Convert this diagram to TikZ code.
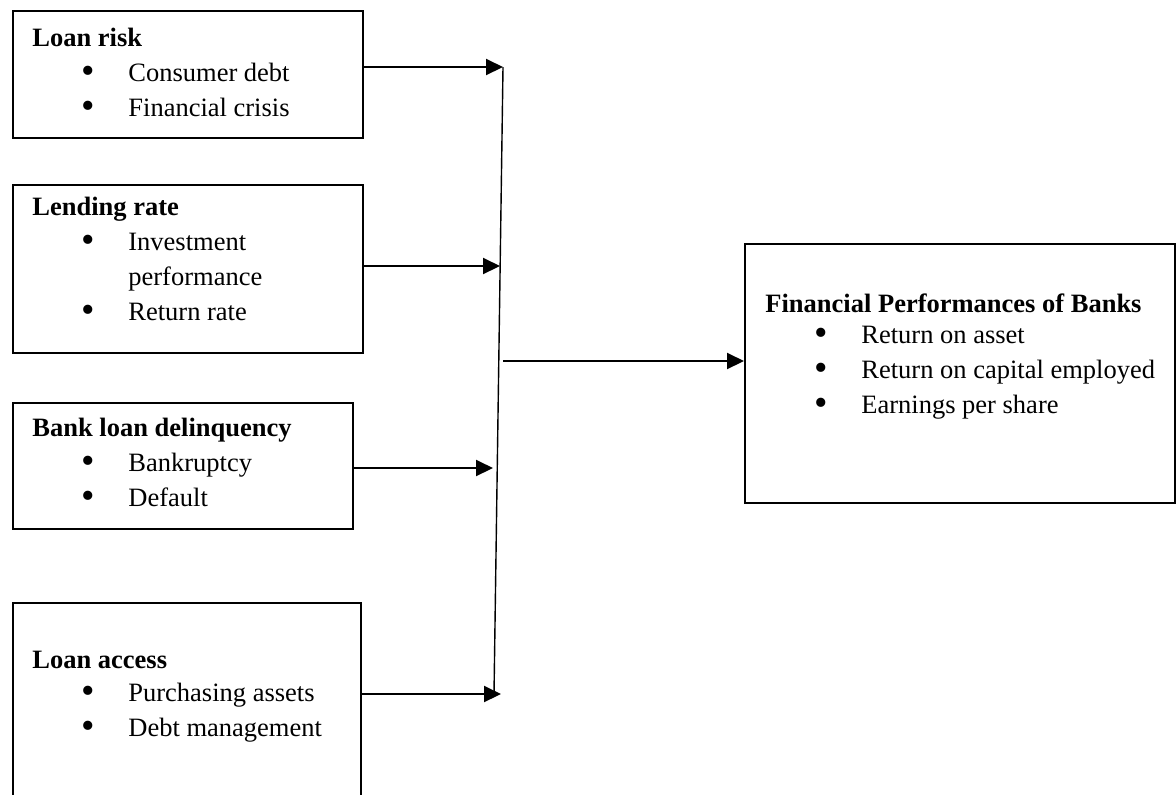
\documentclass[tikz,border=0pt]{standalone}
\usepackage{fontspec}
\setmainfont{Liberation Serif}
\usetikzlibrary{arrows.meta,calc,positioning}
\tikzset{
  boxnode/.style={draw=black, line width=0.9pt, rectangle, inner sep=0pt, anchor=north west},
  boxtext/.style={anchor=north west, align=left, inner sep=0pt, font=\fontsize{13.25}{17.5}\selectfont},
  linkarrow/.style={black, -{Triangle[length=8.5pt,width=8pt]}, line width=1pt},
  busline/.style={black, line width=0.7pt}
}
\newcommand{\itm}[1]{\hspace*{24.5pt}\makebox[23.5pt][l]{\raisebox{-1.2pt}{\scalebox{1.45}{\textbullet}}}#1}
\newcommand{\cont}[1]{\hspace*{48pt}#1}

\begin{document}
\begin{tikzpicture}[x=0.5pt,y=-0.5pt]
  \path[use as bounding box,clip] (0,0) rectangle (1176,794);
  % factor boxes and outcome box
  \node[boxnode,minimum width=175pt,minimum height=63.5pt] (risk) at (12,10) {};
  \node[boxnode,minimum width=175pt,minimum height=84pt] (rate) at (12,184) {};
  \node[boxnode,minimum width=170pt,minimum height=63pt] (delinq) at (12,402) {};
  \node[boxnode,minimum width=174pt,minimum height=110pt] (access) at (12,602) {};
  \node[boxnode,minimum width=215pt,minimum height=129.5pt] (perf) at (744,243) {};
  % box texts
  \node[boxtext] (risktext) at ([shift={(20,11.5)}]risk.north west)
    {\strut\textbf{Loan risk}\\ \itm{Consumer debt}\\ \itm{Financial crisis}};
  \node[boxtext] (ratetext) at ([shift={(20,6.5)}]rate.north west)
    {\strut\textbf{Lending rate}\\ \itm{Investment}\\ \cont{performance}\\ \itm{Return rate}};
  \node[boxtext] (delinqtext) at ([shift={(20,9.5)}]delinq.north west)
    {\strut\textbf{Bank loan delinquency}\\ \itm{Bankruptcy}\\ \itm{Default}};
  \node[boxtext] (accesstext) at ([shift={(20,41.5)}]access.north west)
    {\strut\textbf{Loan access}\\[-1pt] \itm{Purchasing assets}\\ \itm{Debt management}};
  \node[boxtext] (perftext) at ([shift={(21,44.5)}]perf.north west)
    {\strut\textbf{Financial Performances of Banks}\\[-2pt] \itm{Return on asset}\\ \itm{Return on capital employed}\\ \itm{Earnings per share}};
  % collecting line
  \coordinate (bustop) at (503,67);
  \coordinate (busbot) at (494,694);
  \coordinate (tip1) at (503,67);
  \coordinate (tip2) at (500,266);
  \coordinate (tip3) at (493,468);
  \coordinate (tip4) at (501,694);
  \coordinate (busmid) at (503,361);
  \draw[busline] (bustop) -- (busbot);
  \draw[linkarrow] (risk.east |- tip1) -- (tip1);
  \draw[linkarrow] (rate.east |- tip2) -- (tip2);
  \draw[linkarrow] (delinq.east |- tip3) -- (tip3);
  \draw[linkarrow] (access.east |- tip4) -- (tip4);
  \draw[linkarrow] (busmid) -- (busmid -| perf.west);
\end{tikzpicture}
\end{document}
